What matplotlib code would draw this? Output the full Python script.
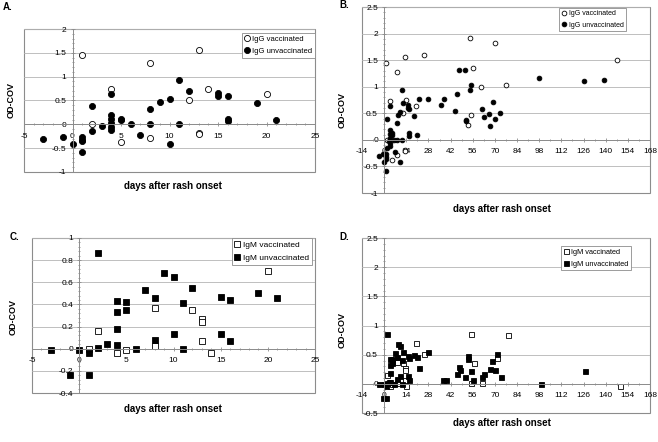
import numpy as np
import matplotlib
matplotlib.use("Agg")
import matplotlib.pyplot as plt
from matplotlib.patches import Rectangle

plt.rcParams['font.family'] = ['Liberation Sans', 'DejaVu Sans']
plt.rcParams['axes.unicode_minus'] = False

# ---- IgG, first 3 weeks (panel A, also part of B)
igg_vac_days = [1, 8, 13, 4, 14, 12, 20, 2, 5, 8, 13, 13]
igg_vac_od = [1.45, 1.28, 1.55, 0.74, 0.75, 0.5, 0.63, 0.0, -0.38, -0.28, -0.19, -0.21]
igg_unvac_days = [-3, -1, 0, 1, 1, 1, 1, 2, 2, 3, 4, 4, 4, 4, 4, 4, 5, 5, 6, 7,
                  8, 8, 9, 10, 10, 11, 11, 12, 15, 15, 16, 16, 16, 19, 21]
igg_unvac_od = [-0.3, -0.26, -0.42, -0.27, -0.32, -0.36, -0.58, 0.39, -0.15, -0.03,
                0.63, 0.19, 0.11, 0.03, -0.05, -0.12, 0.12, 0.09, 0.0, -0.23,
                0.32, 0.0, 0.47, 0.53, -0.42, 0.93, 0.0, 0.7, 0.66, 0.6,
                0.59, 0.12, 0.07, 0.45, 0.1]

# ---- IgG, later samples (panel B only)
igg_vac_days_late = [25, 54, 70, 56, 61, 77, 147, 55, 53]
igg_vac_od_late = [1.6, 1.92, 1.82, 1.36, 0.99, 1.03, 1.51, 0.46, 0.28]
igg_unvac_days_late = [22, 28, 36, 38, 45, 46, 47, 51, 52, 52, 54, 55, 62, 63,
                       66, 67, 69, 70, 73, 98, 126, 139]
igg_unvac_od_late = [0.77, 0.77, 0.65, 0.76, 0.55, 0.86, 1.31, 1.31, 0.38, 0.35,
                     0.94, 1.04, 0.59, 0.43, 0.48, 0.27, 0.72, 0.40, 0.50, 1.17,
                     1.10, 1.13]

# ---- IgM, first 3 weeks (panel C, also part of D)
igm_vac_days = [1, 2, 4, 5, 8, 8, 12, 13, 13, 13, 14, 20]
igm_vac_od = [0.0, 0.16, -0.04, -0.01, 0.37, 0.02, 0.35, 0.27, 0.24, 0.07, -0.04, 0.70]
igm_unvac_days = [-3, -1, 0, 1, 1, 2, 2, 3, 4, 4, 4, 4, 5, 5, 6, 7, 8, 8, 9, 10,
                  10, 11, 11, 12, 15, 15, 16, 16, 19, 21]
igm_unvac_od = [-0.01, -0.24, -0.01, -0.04, -0.24, 0.86, 0.01, 0.04, 0.43, 0.33,
                0.18, 0.03, 0.42, 0.35, 0.0, 0.53, 0.46, 0.08, 0.68, 0.65,
                0.13, 0.41, 0.0, 0.55, 0.47, 0.13, 0.44, 0.07, 0.5, 0.46]

# ---- IgM, later samples (panel D only)
igm_vac_days_late = [25, 55, 57, 55, 62, 71, 78, 149]
igm_vac_od_late = [0.51, 0.86, 0.36, 0.02, 0.02, 0.45, 0.84, -0.04]
igm_unvac_days_late = [22, 28, 37, 39, 46, 47, 48, 51, 53, 53, 55, 56, 62, 63,
                       67, 68, 70, 71, 74, 99, 127]
igm_unvac_od_late = [0.28, 0.55, 0.07, 0.07, 0.17, 0.29, 0.24, 0.12, 0.47, 0.43,
                     0.22, 0.07, 0.12, 0.17, 0.26, 0.39, 0.24, 0.51, 0.12, 0.0, 0.22]

W, H = 658, 442
fig = plt.figure(figsize=(W / 100, H / 100), dpi=100)
GRAY = '#8c8c8c'


def add_panel(l, t, r, b):
    return fig.add_axes([l / W, 1 - b / H, (r - l) / W, (b - t) / H])


def fig_text(x, y, s, **kw):
    fig.text(x / W, 1 - y / H, s, **kw)


def style(ax, xlim, xstep, xminor, ylim, ystep, yminor):
    ax.set_xlim(*xlim)
    ax.set_ylim(*ylim)
    ax.set_xticks(np.arange(xlim[0], xlim[1] + 0.001, xstep))
    ax.set_xticks(np.arange(xlim[0], xlim[1] + 0.001, xminor), minor=True)
    ax.set_yticks(np.arange(ylim[0], ylim[1] + 0.001, ystep))
    ax.set_yticks(np.arange(ylim[0], ylim[1] + 0.001, yminor), minor=True)
    fmt = plt.FuncFormatter(lambda v, p: f"{round(v, 2):g}")
    ax.xaxis.set_major_formatter(fmt)
    ax.yaxis.set_major_formatter(fmt)
    for side in ['top', 'right']:
        ax.spines[side].set_visible(False)
    ax.spines['left'].set_position(('data', 0))
    ax.spines['bottom'].set_position(('data', 0))
    for side in ['left', 'bottom']:
        ax.spines[side].set_color(GRAY)
        ax.spines[side].set_linewidth(0.7)
    ax.add_patch(Rectangle((0, 0), 1, 1, transform=ax.transAxes, fill=False,
                           edgecolor=GRAY, lw=0.8, clip_on=False, zorder=0))
    ax.grid(axis='y', which='major', color='#b4b4b4', lw=0.6)
    ax.set_axisbelow(True)
    ax.tick_params(which='both', direction='inout', color=GRAY, width=0.6,
                   labelsize=6)
    ax.tick_params(which='major', length=3)
    ax.tick_params(which='minor', length=2)
    ax.tick_params(axis='x', pad=4.5)
    ax.tick_params(axis='y', pad=3)


def scatter_pair(ax, vx, vy, ux, uy, marker, ms, labels, leg_fs, anchor):
    ax.plot(vx, vy, ls='none', marker=marker, ms=ms, mfc='white', mec='black',
            mew=0.6, label=labels[0], clip_on=False)
    ax.plot(ux, uy, ls='none', marker=marker, ms=ms, mfc='black', mec='black',
            mew=0.6, label=labels[1], clip_on=False)
    leg = ax.legend(loc='upper right', bbox_to_anchor=anchor, fontsize=leg_fs,
                    frameon=True, fancybox=False, framealpha=1, edgecolor=GRAY,
                    handlelength=0.7, handletextpad=0.3, borderpad=0.35,
                    labelspacing=0.65, borderaxespad=0)
    leg.get_frame().set_linewidth(0.6)


# A
axA = add_panel(24, 29, 315, 172)
style(axA, (-5, 25), 5, 1, (-1, 2), 0.5, 0.1)
scatter_pair(axA, igg_vac_days, igg_vac_od, igg_unvac_days, igg_unvac_od, 'o', 4.4,
             ['IgG vaccinated', 'IgG unvaccinated'], 5.5, (1.0, 0.975))

# B
axB = add_panel(362, 7, 650, 193)
style(axB, (-14, 168), 14, 7, (-1, 2.5), 0.5, 0.1)
scatter_pair(axB, igg_vac_days + igg_vac_days_late, igg_vac_od + igg_vac_od_late,
             igg_unvac_days + igg_unvac_days_late, igg_unvac_od + igg_unvac_od_late,
             'o', 3.4, ['IgG vaccinated', 'IgG unvaccinated'], 5.0, (0.917, 0.995))

# C
axC = add_panel(32, 238, 315, 393)
style(axC, (-5, 25), 5, 1, (-0.4, 1), 0.2, 0.04)
scatter_pair(axC, igm_vac_days, igm_vac_od, igm_unvac_days, igm_unvac_od, 's', 4.8,
             ['IgM vaccinated', 'IgM unvaccinated'], 6.0, (0.989, 1.0))

# D
axD = add_panel(362, 238, 650, 413)
style(axD, (-14, 168), 14, 7, (-0.5, 2.5), 0.5, 0.1)
scatter_pair(axD, igm_vac_days + igm_vac_days_late, igm_vac_od + igm_vac_od_late,
             igm_unvac_days + igm_unvac_days_late, igm_unvac_od + igm_unvac_od_late,
             's', 3.6, ['IgM vaccinated', 'IgM unvaccinated'], 5.3, (0.934, 0.954))

# panel letters, axis titles
lab = dict(fontsize=7, fontweight='bold')
fig_text(3, 7, 'A.', va='center', ha='left', **lab)
fig_text(339, 5, 'B.', va='center', ha='left', **lab)
fig_text(10, 237, 'C.', va='center', ha='left', **lab)
fig_text(339, 237, 'D.', va='center', ha='left', **lab)

for x, y in [(11, 100), (342, 110), (13, 317), (342, 330)]:
    fig_text(x, y, 'OD-COV', rotation=90, va='center', ha='center', fontsize=6.5,
             fontweight='bold')
for x, y in [(173, 186), (502, 209), (173, 409), (502, 423)]:
    fig_text(x, y, 'days after rash onset', va='center', ha='center', fontsize=7,
             fontweight='bold')

fig.savefig('out.png', dpi=100)
